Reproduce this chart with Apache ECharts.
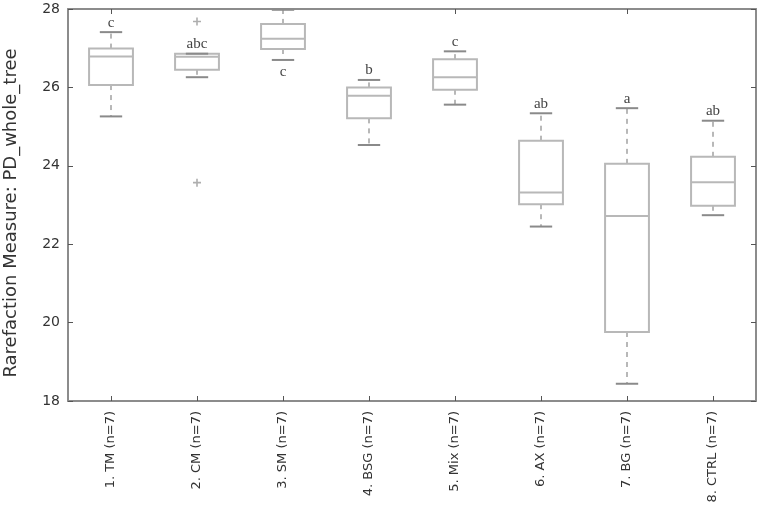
<html>
<head>
<meta charset="utf-8">
<script type="text/javascript" src="https://cdn.jsdelivr.net/npm/echarts@6/dist/echarts.min.js"></script>
<style type="text/css">
	body { margin: 0; background: #fff; }
	#chart { width: 760px; height: 514px; }
</style>
</head>
<body>
<div id="chart"></div>
<script type="text/javascript">

// groups along x
const categories = ['1. TM (n=7)', '2. CM (n=7)', '3. SM (n=7)', '4. BSG (n=7)',
	'5. Mix (n=7)', '6. AX (n=7)', '7. BG (n=7)', '8. CTRL (n=7)'];

// box statistics
const lowerWhisker = [25.26, 26.26, 26.70, 24.53, 25.56, 22.45, 18.44, 22.74];
const q1 = [26.06, 26.45, 26.98, 25.21, 25.94, 23.02, 19.76, 22.98];
const medians = [26.79, 26.78, 27.24, 25.79, 26.26, 23.32, 22.72, 23.58];
const q3 = [26.99, 26.86, 27.62, 26.00, 26.72, 24.64, 24.05, 24.23];
const upperWhisker = [27.41, 26.86, 27.98, 26.19, 26.92, 25.34, 25.47, 25.15];

// fliers: [group index, value]
const outliers = [[1, 27.68], [1, 23.57]];

// significance letters
const letters = ['c', 'abc', 'c', 'b', 'c', 'ab', 'a', 'ab'];

const yTicks = [18, 20, 22, 24, 26, 28];

const boxColor = '#b8b8b8';
const capColor = '#8a8a8a';
const frameColor = '#8c8c8c';

function renderBox(params, api) {
	let i = api.value(0);
	let lo = api.coord([i, api.value(1)]);
	let b1 = api.coord([i, api.value(2)]);
	let md = api.coord([i, api.value(3)]);
	let b3 = api.coord([i, api.value(4)]);
	let hi = api.coord([i, api.value(5)]);
	let band = api.size([1, 0])[0];
	let half = band * 0.255;
	let cap = band * 0.13;
	let x = lo[0];
	let line = function(x1, y1, x2, y2, style) {
		return { type: 'line', shape: { x1: x1, y1: y1, x2: x2, y2: y2 }, style: style };
	};
	let boxStyle = { stroke: boxColor, lineWidth: 2, fill: null };
	let dashStyle = { stroke: boxColor, lineWidth: 2, lineDash: [5, 5] };
	let capStyle = { stroke: capColor, lineWidth: 2 };
	let children = [
		line(x, b3[1], x, hi[1], dashStyle),
		line(x, b1[1], x, lo[1], dashStyle),
		{ type: 'rect', shape: { x: x - half, y: b3[1], width: half * 2, height: b1[1] - b3[1] }, style: boxStyle },
		line(x - half, md[1], x + half, md[1], boxStyle),
		line(x - cap, hi[1], x + cap, hi[1], capStyle),
		line(x - cap, lo[1], x + cap, lo[1], capStyle)
	];
	// letter above the upper cap, or below the lower cap when there is no room
	let below = api.value(5) > 27.8;
	children.push({
		type: 'text',
		style: {
			text: letters[i],
			x: x,
			y: below ? lo[1] + 5 : hi[1] - 2,
			align: 'center',
			verticalAlign: below ? 'top' : 'bottom',
			font: '15px "Liberation Serif"',
			fill: '#444'
		}
	});
	return { type: 'group', children: children };
}

let boxData = categories.map(function(c, i) {
	return [i, lowerWhisker[i], q1[i], medians[i], q3[i], upperWhisker[i]];
});

let axisLine = { show: true, lineStyle: { color: frameColor, width: 2 } };
let tick = { show: true, inside: true, length: 5, lineStyle: { color: '#555', width: 1 } };

let option = {
	animation: false,
	grid: { left: 68, right: 4, top: 9, bottom: 113, outerBoundsMode: 'none' },
	xAxis: [
		{
			type: 'category',
			data: categories,
			position: 'bottom',
			axisLine: axisLine,
			axisTick: Object.assign({ alignWithLabel: true }, tick),
			axisLabel: {
				rotate: 90,
				interval: 0,
				margin: 10,
				fontFamily: 'DejaVu Sans',
				fontSize: 13,
				color: '#333'
			},
			splitLine: { show: false }
		},
		{
			type: 'category',
			data: categories,
			position: 'top',
			axisLine: axisLine,
			axisTick: Object.assign({ alignWithLabel: true }, tick),
			axisLabel: { show: false },
			splitLine: { show: false }
		}
	],
	yAxis: [
		{
			type: 'value',
			min: 18,
			max: 28,
			interval: 2,
			name: 'Rarefaction Measure: PD_whole_tree',
			nameLocation: 'middle',
			nameGap: 48,
			nameTextStyle: {
				fontFamily: 'DejaVu Sans',
				fontSize: 18,
				color: '#333',
				padding: [0, 16, 0, 0]
			},
			axisLine: axisLine,
			axisTick: tick,
			axisLabel: {
				fontFamily: 'DejaVu Sans',
				fontSize: 14,
				color: '#333',
				margin: 8,
				formatter: function(v) { return yTicks.indexOf(v) >= 0 ? String(v) : ''; }
			},
			splitLine: { show: false }
		},
		{
			type: 'value',
			min: 18,
			max: 28,
			interval: 2,
			position: 'right',
			axisLine: axisLine,
			axisTick: tick,
			axisLabel: { show: false },
			splitLine: { show: false }
		}
	],
	series: [
		{
			type: 'custom',
			renderItem: renderBox,
			data: boxData,
			encode: { x: 0, y: [1, 2, 3, 4, 5] },
			z: 3
		},
		{
			type: 'scatter',
			data: outliers,
			symbol: 'path://M4,0 L6,0 L6,4 L10,4 L10,6 L6,6 L6,10 L4,10 L4,6 L0,6 L0,4 L4,4 Z',
			symbolSize: 8,
			itemStyle: { color: '#9a9a9a' },
			z: 4
		}
	]
};

var myChart = echarts.init(document.getElementById('chart'));
myChart.setOption(option);
</script>
</body>
</html>
